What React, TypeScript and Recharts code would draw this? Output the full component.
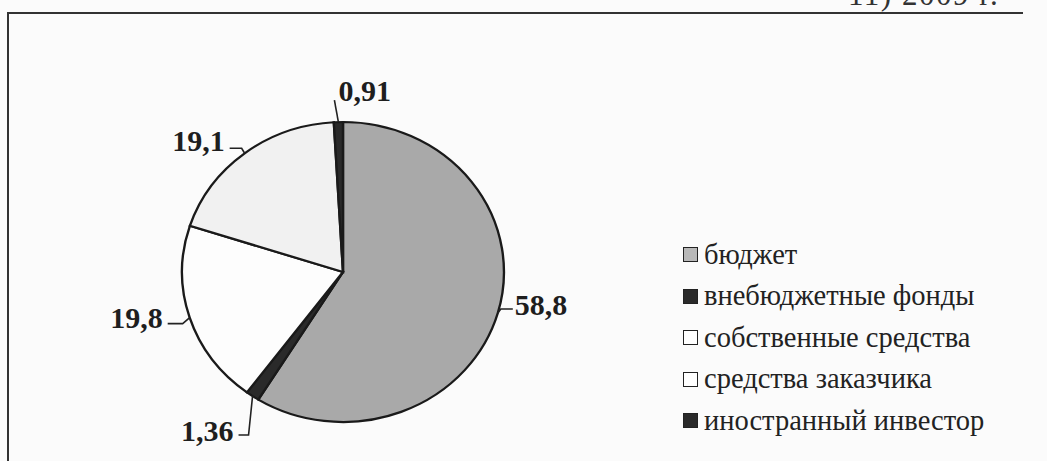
import React from "react";
import { PieChart, Pie, Cell, Legend } from "recharts";

const categories = [
  "бюджет",
  "внебюджетные фонды",
  "собственные средства",
  "средства заказчика",
  "иностранный инвестор",
];
const values = [58.8, 1.36, 19.8, 19.1, 0.91];
const valueLabels = ["58,8", "1,36", "19,8", "19,1", "0,91"];
const headerText = "11) 2009 г.";

const fills = ["#a9a9a9", "#2a2a2a", "#fdfdfd", "#f1f1f1", "#2a2a2a"];
const swatchFills = ["#b8b8b8", "#2a2a2a", "#ffffff", "#ffffff", "#2a2a2a"];

const CX = 343;
const CY = 272;
const RY = 150;
const XSCALE = 1.073;

// leader-line geometry per label (style only)
const leaders = [
  { dx: 3, dy: -4, h: 12, anchor: "start", tdx: 2, tdy: -5 },
  { dx: -4, dy: 39, h: -10, anchor: "end", tdx: -5, tdy: -5 },
  { dx: -7, dy: 6, h: -15, anchor: "end", tdx: -5, tdy: -6 },
  { dx: -3, dy: -5, h: -12, anchor: "end", tdx: -5, tdy: -8 },
  { dx: -4, dy: -22, h: 0, anchor: "start", tdx: 4, tdy: -10 },
];

const data = categories.map((name, i) => ({ name, value: values[i] }));

const RAD = Math.PI / 180;

const renderLabel = (props: any) => {
  const { cx, cy, midAngle, outerRadius, index } = props;
  const rx = outerRadius * XSCALE;
  const ex = cx + rx * Math.cos(-midAngle * RAD);
  const ey = cy + outerRadius * Math.sin(-midAngle * RAD);
  const l = leaders[index];
  const bx = ex + l.dx;
  const by = ey + l.dy;
  const hx = bx + l.h;
  return (
    <g key={`lbl-${index}`}>
      <polyline
        points={`${ex},${ey} ${bx},${by} ${hx},${by}`}
        fill="none"
        stroke="#222"
        strokeWidth={1.6}
      />
      <text
        x={hx + l.tdx}
        y={by + l.tdy}
        textAnchor={l.anchor as any}
        dominantBaseline="central"
        fontFamily="'Liberation Serif', 'Times New Roman', serif"
        fontWeight="bold"
        fontSize={30}
        fill="#1e1e1e"
      >
        {valueLabels[index]}
      </text>
    </g>
  );
};

const renderLegend = () => (
  <div style={{ display: "flex", flexDirection: "column" }}>
    {categories.map((c, i) => (
      <div
        key={c}
        style={{
          display: "flex",
          alignItems: "center",
          height: 41.5,
          fontFamily: "'Liberation Serif', 'Times New Roman', serif",
          fontSize: 28.5,
          color: "#222",
          whiteSpace: "nowrap",
        }}
      >
        <span
          style={{
            display: "inline-block",
            width: 15,
            height: 15,
            boxSizing: "border-box",
            border: "1.8px solid #222",
            background: swatchFills[i],
            marginRight: 6,
          }}
        />
        {c}
      </div>
    ))}
  </div>
);

export default function App() {
  return (
    <div
      style={{
        position: "absolute",
        left: 0,
        top: 0,
        width: 1047,
        height: 461,
        background: "#fbfbfb",
        overflow: "hidden",
      }}
    >
      <style>{`.recharts-pie .recharts-sector{transform-box:view-box;transform-origin:${CX}px ${CY}px;transform:scaleX(${XSCALE});}`}</style>
      <svg
        width={1047}
        height={461}
        style={{ position: "absolute", left: 0, top: 0 }}
      >
        <text
          x={848}
          y={5}
          fontFamily="'Liberation Serif', 'Times New Roman', serif"
          fontSize={31}
          fill="#333"
          letterSpacing={1.5}
        >
          {headerText}
        </text>
        <polyline
          points="8,461 8,13 1023,13"
          fill="none"
          stroke="#333"
          strokeWidth={2}
        />
      </svg>
      <div style={{ position: "absolute", left: 0, top: 0 }}>
        <PieChart
          width={1047}
          height={461}
          margin={{ top: 0, right: 0, bottom: 0, left: 0 }}
        >
          <Pie
            data={data}
            dataKey="value"
            nameKey="name"
            cx={CX}
            cy={CY}
            outerRadius={RY}
            startAngle={90}
            endAngle={-270}
            stroke="#1a1a1a"
            strokeWidth={2.2}
            label={renderLabel}
            labelLine={false}
            isAnimationActive={false}
          >
            {data.map((d, i) => (
              <Cell key={d.name} fill={fills[i]} />
            ))}
          </Pie>
          <Legend
            layout="vertical"
            align="right"
            verticalAlign="middle"
            content={renderLegend}
            wrapperStyle={{ position: "absolute", left: 683, top: 234, width: 360 }}
          />
        </PieChart>
      </div>
    </div>
  );
}
